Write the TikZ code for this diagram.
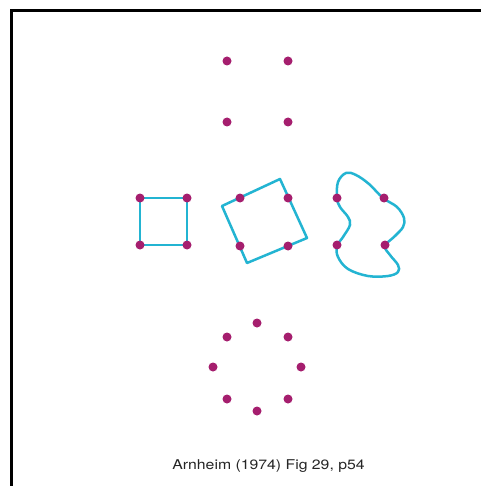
\documentclass[tikz,border=0pt]{standalone}
\usepackage{fontspec}
\setmainfont{TeX Gyre Heros}
\definecolor{dotc}{RGB}{165,30,110}
\definecolor{linec}{RGB}{35,180,210}
\tikzset{
  dotn/.style={circle, fill=dotc, inner sep=0pt, minimum size=9pt},
  shapeline/.style={draw=linec, line width=2.5pt, line join=round},
  frameline/.style={draw=black, line width=3pt}
}
\begin{document}
\begin{tikzpicture}[x=1pt,y=-1pt]
\useasboundingbox (0,0) rectangle (481,486);
\fill[white] (0,0) rectangle (481,486);
% frame
\coordinate (f1) at (11,486);
\coordinate (f2) at (11,11);
\coordinate (f3) at (481,11);
\draw[frameline] (f1) -- (f2) -- (f3);
% positions
\coordinate (s1) at (140,198);
\coordinate (s2) at (187,198);
\coordinate (s3) at (187,245);
\coordinate (s4) at (140,245);
\coordinate (r1) at (222,206);
\coordinate (r2) at (280,179);
\coordinate (r3) at (307,238);
\coordinate (r4) at (247,263);
% shapes
\draw[shapeline] (s1) -- (s2) -- (s3) -- (s4) -- cycle;
\draw[shapeline] (r1) -- (r2) -- (r3) -- (r4) -- cycle;
\draw[shapeline] plot[smooth cycle, tension=0.6] coordinates {
 (337,198) (338,182) (346,173) (356,175) (369,184) (383,198) (397,207) (404,218)
 (403,227) (395,236) (385,246) (390,255) (398,265) (398,272) (388,276) (368,276)
 (348,269) (338,257) (337,246) (343,237) (350,225) (348,217) (340,207)};
% top dots
\node[dotn] (t1) at (227,61) {};
\node[dotn] (t2) at (288,61) {};
\node[dotn] (t3) at (227,122) {};
\node[dotn] (t4) at (288,122) {};
% row dots
\node[dotn] (a1) at (s1) {};
\node[dotn] (a2) at (s2) {};
\node[dotn] (a3) at (s3) {};
\node[dotn] (a4) at (s4) {};
\node[dotn] (b1) at (240,198) {};
\node[dotn] (b2) at (288,198) {};
\node[dotn] (b3) at (288,246) {};
\node[dotn] (b4) at (240,246) {};
\node[dotn] (c1) at (337,198) {};
\node[dotn] (c2) at (384,198) {};
\node[dotn] (c3) at (385,245) {};
\node[dotn] (c4) at (337,245) {};
% circle dots
\node[dotn] (o1) at (257,323) {};
\node[dotn] (o2) at (288,337) {};
\node[dotn] (o3) at (301,367) {};
\node[dotn] (o4) at (288,399) {};
\node[dotn] (o5) at (257,411) {};
\node[dotn] (o6) at (227,399) {};
\node[dotn] (o7) at (213,367) {};
\node[dotn] (o8) at (227,337) {};
% caption
\node[font=\fontsize{13.5}{15}\selectfont, text=black!85, xscale=1.17, inner sep=0pt] (cap) at (268.5,466.5) {Arnheim (1974) Fig 29, p54};
\end{tikzpicture}
\end{document}
